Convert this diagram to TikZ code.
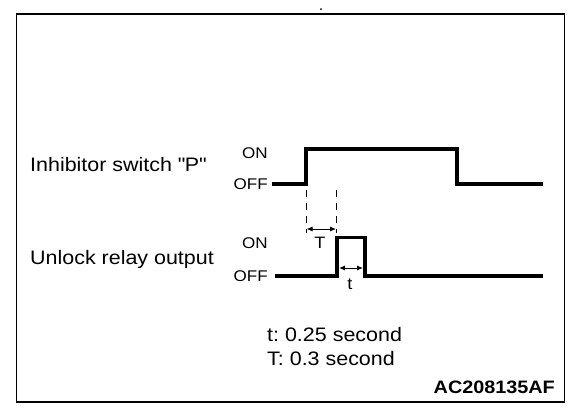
\documentclass[tikz,border=0pt]{standalone}
\usepackage{fontspec}
\setmainfont{Liberation Sans}[FakeStretch=1.1]
\usetikzlibrary{arrows.meta,positioning}
\tikzset{
  sigline/.style={line width=3.8pt, line join=miter, draw=black},
  nametext/.style={font=\fontsize{19.5}{22}\selectfont, inner sep=0pt, anchor=base west},
  leveltext/.style={font=\fontsize{15.5}{18}\selectfont, inner sep=0pt, anchor=base east},
  marktext/.style={font=\fontsize{16.5}{18}\selectfont, inner sep=0pt, anchor=base},
  dimarrow/.style={{Latex[length=6pt,width=5pt]}-{Latex[length=6pt,width=5pt]}, line width=0.9pt},
  guideline/.style={dash pattern=on 7pt off 6pt, line width=0.8pt}
}
\frenchspacing

\begin{document}
\begin{tikzpicture}[x=1pt, y=-1pt]
    \useasboundingbox (0,0) rectangle (576,416);
    \draw[line width=1.8pt] (16.5,14) rectangle (564.5,402);
    \fill (321,9) circle (1pt);
    % signal names
    \node[nametext] (inh) at (30,171) {Inhibitor switch \textquotedbl P\textquotedbl};
    \node[nametext] (unl) at (30,264) {Unlock relay output};
    % level labels
    \node[leveltext] (on1) at (268,158) {ON};
    \node[leveltext] (off1) at (268,189) {OFF};
    \node[leveltext] (on2) at (268,248) {ON};
    \node[leveltext] (off2) at (268,281) {OFF};
    % signal corners
    \coordinate (a1) at (272,184);
    \coordinate (a2) at (306,184);
    \coordinate (a3) at (306,149);
    \coordinate (a4) at (457,149);
    \coordinate (a5) at (457,184);
    \coordinate (a6) at (543,184);
    \coordinate (b1) at (275,276);
    \coordinate (b2) at (337,276);
    \coordinate (b3) at (337,237.5);
    \coordinate (b4) at (365,237.5);
    \coordinate (b5) at (365,276);
    \coordinate (b6) at (543,276);
    \draw[sigline] (a1) -- (a2) -- (a3) -- (a4) -- (a5) -- (a6);
    \draw[sigline] (b1) -- (b2) -- (b3) -- (b4) -- (b5) -- (b6);
    % timing marks
    \coordinate (g1) at (306.5,190);
    \coordinate (g2) at (336,190);
    \coordinate (d1) at (306.5,233);
    \coordinate (d2) at (336,233);
    \draw[guideline] (g1) -- (d1);
    \draw[guideline] (g2) -- (d2);
    \coordinate (ts) at (306.5,229);
    \coordinate (te) at (336,229);
    \draw[dimarrow] (ts) -- (te);
    \node[marktext] (tT) at (320,248) {T};
    \coordinate (us) at (339,268);
    \coordinate (ue) at (363,268);
    \draw[dimarrow] (us) -- (ue);
    \node[marktext] (tt) at (350,289) {t};
    % notes
    \node[nametext] (n1) at (267,341) {t: 0.25 second};
    \node[nametext] (n2) at (267,365) {T: 0.3 second};
    \node[inner sep=0pt, anchor=base east, font=\fontsize{18}{20}\selectfont\bfseries] (code) at (555,393) {AC208135AF};
  \end{tikzpicture}
\end{document}
